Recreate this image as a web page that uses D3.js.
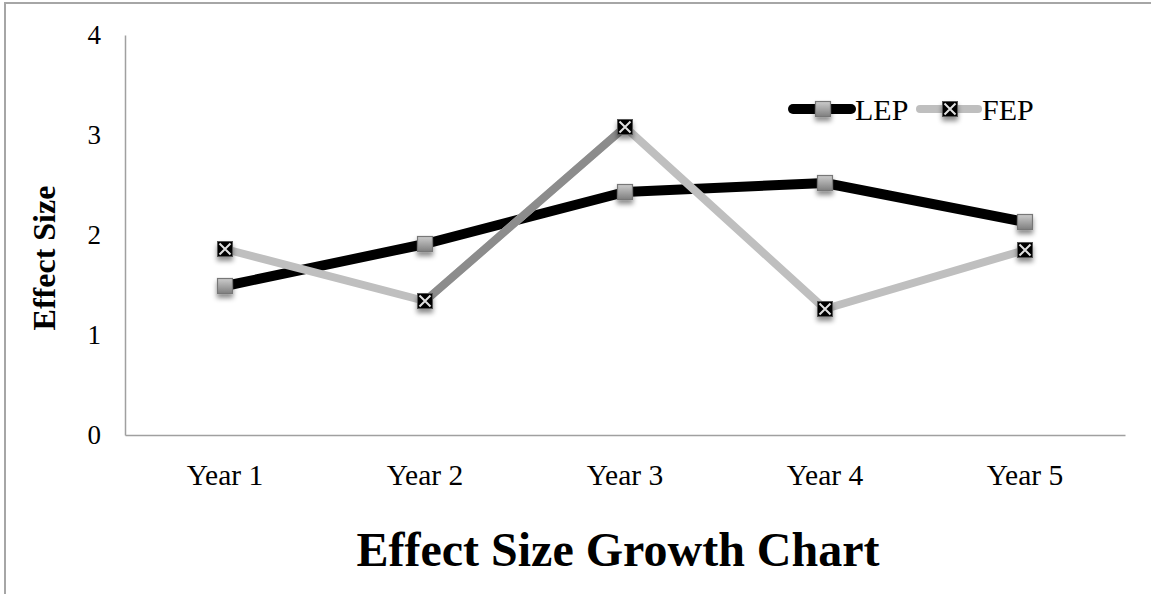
<!DOCTYPE html>
<html>
<head>
<meta charset="utf-8">
<script src="https://cdn.jsdelivr.net/npm/d3@7/dist/d3.min.js"></script>
<style>
  body { margin: 0; background: #fff; }
  text { font-family: "Liberation Serif", "Times New Roman", serif; fill: #000; }
</style>
</head>
<body>
<script>
// chart data
const years = ["Year 1", "Year 2", "Year 3", "Year 4", "Year 5"];
const lepValues = [1.49, 1.91, 2.43, 2.52, 2.13];
const fepValues = [1.86, 1.34, 3.08, 1.26, 1.85];
const yTicks = [0, 1, 2, 3, 4];
const seriesNames = ["LEP", "FEP"];

const width = 1151, height = 594;
const margin = {left: 125, right: 26, top: 35, bottom: 159};

const svg = d3.select("body").append("svg")
  .attr("width", width)
  .attr("height", height);

// drop shadow for markers
const defs = svg.append("defs");
defs.append("filter")
  .attr("id", "shadow")
  .attr("x", "-50%").attr("y", "-50%")
  .attr("width", "200%").attr("height", "220%")
  .append("feDropShadow")
  .attr("dx", 0).attr("dy", 4)
  .attr("stdDeviation", 2.4)
  .attr("flood-color", "#000")
  .attr("flood-opacity", 0.45);

const grad = defs.append("linearGradient")
  .attr("id", "lepGrad")
  .attr("x1", 0).attr("y1", 0).attr("x2", 0).attr("y2", 1);
grad.append("stop").attr("offset", "0%").attr("stop-color", "#cccccc");
grad.append("stop").attr("offset", "100%").attr("stop-color", "#7f7f7f");

// outer frame (only top and left visible)
svg.append("path")
  .attr("d", `M5,${height} L5,3 L${width},3`)
  .attr("fill", "none")
  .attr("stroke", "#a6a6a6")
  .attr("stroke-width", 2);

const x = d3.scaleBand()
  .domain(years)
  .range([margin.left, width - margin.right]);

const y = d3.scaleLinear()
  .domain([0, 4])
  .range([height - margin.bottom, margin.top]);

const cx = d => x(d) + x.bandwidth() / 2;

// axes
const xAxis = svg.append("g")
  .attr("transform", `translate(0,${y(0)})`)
  .call(d3.axisBottom(x).tickSize(0).tickPadding(29));
xAxis.select(".domain").attr("stroke", "#a0a0a0").attr("stroke-width", 1.5);
xAxis.selectAll("text")
  .attr("font-size", 29.5)
  .attr("font-family", "Liberation Serif, serif")
  .attr("fill", "#000");

const yAxis = svg.append("g")
  .attr("transform", `translate(${margin.left},0)`)
  .call(d3.axisLeft(y).tickValues(yTicks).tickSize(0).tickPadding(24).tickFormat(d3.format("d")));
yAxis.select(".domain").attr("stroke", "#a0a0a0").attr("stroke-width", 1.5);
yAxis.selectAll("text")
  .attr("font-size", 27)
  .attr("font-family", "Liberation Serif, serif")
  .attr("fill", "#000");

// axis title
svg.append("text")
  .attr("transform", "translate(55,258) rotate(-90)")
  .attr("text-anchor", "middle")
  .attr("font-size", 32)
  .attr("font-weight", "bold")
  .text("Effect Size");

// chart title
svg.append("text")
  .attr("x", 618)
  .attr("y", 566)
  .attr("text-anchor", "middle")
  .attr("font-size", 48)
  .attr("font-weight", "bold")
  .text("Effect Size Growth Chart");

const line = d3.line()
  .x((d, i) => cx(years[i]))
  .y(d => y(d));

// markers
const ms = 7.5;
const lepMarker = (g, mx, my) => {
  g.append("rect")
    .attr("x", mx - ms).attr("y", my - ms)
    .attr("width", ms * 2).attr("height", ms * 2)
    .attr("fill", "url(#lepGrad)")
    .attr("stroke", "#777")
    .attr("stroke-width", 1.2)
    .attr("filter", "url(#shadow)");
};
const fepMarker = (g, mx, my) => {
  const m = g.append("g").attr("filter", "url(#shadow)");
  m.append("rect")
    .attr("x", mx - ms).attr("y", my - ms)
    .attr("width", ms * 2).attr("height", ms * 2)
    .attr("fill", "#000")
    .attr("stroke", "#555")
    .attr("stroke-width", 1);
  const k = ms - 2;
  m.append("path")
    .attr("d", `M${mx - k},${my - k} L${mx + k},${my + k} M${mx + k},${my - k} L${mx - k},${my + k}`)
    .attr("stroke", "#e0e0e0")
    .attr("stroke-width", 2);
};

// LEP series
svg.append("path")
  .datum(lepValues)
  .attr("d", line)
  .attr("fill", "none")
  .attr("stroke", "#000")
  .attr("stroke-width", 10)
  .attr("stroke-linejoin", "round");
const lepG = svg.append("g");
lepValues.forEach((v, i) => lepMarker(lepG, cx(years[i]), y(v)));

// FEP series
svg.append("path")
  .datum(fepValues)
  .attr("d", line)
  .attr("fill", "none")
  .attr("stroke", "#bfbfbf")
  .attr("stroke-width", 8)
  .attr("stroke-linejoin", "round");
// darker segment between Year 2 and Year 3
svg.append("line")
  .attr("x1", cx(years[1])).attr("y1", y(fepValues[1]))
  .attr("x2", cx(years[2])).attr("y2", y(fepValues[2]))
  .attr("stroke", "#8c8c8c")
  .attr("stroke-width", 8);
const fepG = svg.append("g");
fepValues.forEach((v, i) => fepMarker(fepG, cx(years[i]), y(v)));

// legend
const legend = svg.append("g").attr("transform", "translate(0,109)");
const legendItems = [
  {name: seriesNames[0], x0: 793, color: "#000", w: 10, marker: lepMarker},
  {name: seriesNames[1], x0: 920, color: "#bfbfbf", w: 8, marker: fepMarker}
];
legendItems.forEach(it => {
  legend.append("line")
    .attr("x1", it.x0).attr("x2", it.x0 + 58)
    .attr("y1", 0).attr("y2", 0)
    .attr("stroke", it.color)
    .attr("stroke-width", it.w)
    .attr("stroke-linecap", "round");
  it.marker(legend, it.x0 + 30, 0);
  legend.append("text")
    .attr("x", it.x0 + 62)
    .attr("y", 0)
    .attr("dy", "0.35em")
    .attr("font-size", 30)
    .text(it.name);
});
</script>
</body>
</html>
